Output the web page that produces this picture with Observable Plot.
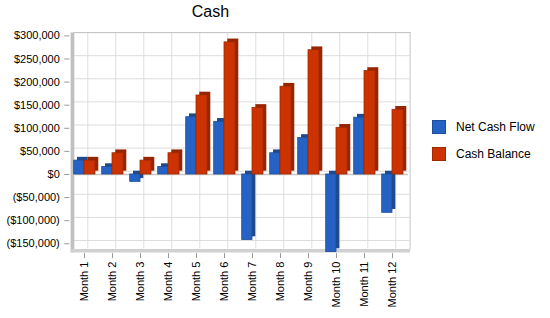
<!DOCTYPE html>
<html>
<head>
<meta charset="utf-8">
<script src="https://cdn.jsdelivr.net/npm/d3@7"></script>
<script src="https://cdn.jsdelivr.net/npm/@observablehq/plot@0.6"></script>
<style>
  html, body { margin: 0; padding: 0; background: #ffffff; }
  body { font-family: "Liberation Sans", Arial, sans-serif; }
  #wrap { position: relative; width: 550px; height: 318px; overflow: hidden; }
  #title { position: absolute; left: 160px; top: 3.5px; width: 101px; text-align: center;
           font-size: 16px; line-height: 16px; color: #000; }
  .item { position: absolute; left: 432px; height: 14px; display: flex; align-items: center;
          font-size: 12px; color: #000; white-space: nowrap; }
  .swatch { width: 12px; height: 12px; box-sizing: content-box; margin-right: 10px; }
  svg { position: absolute; left: 0; top: 0; }
</style>
</head>
<body>
<div id="wrap">
  <div id="title">Cash</div>
</div>
<script>
// Monthly cash figures
const months = ["Month 1", "Month 2", "Month 3", "Month 4", "Month 5", "Month 6",
                "Month 7", "Month 8", "Month 9", "Month 10", "Month 11", "Month 12"];
const netCashFlow = [30000, 16000, -16000, 16000, 124000, 114000,
                     -142000, 46000, 79000, -168000, 123000, -83000];
const cashBalance = [30000, 46000, 30000, 46000, 171000, 286000,
                     144000, 190000, 269000, 101000, 224000, 140000];
const seriesNames = ["Net Cash Flow", "Cash Balance"];
const yTicks = [-150000, -100000, -50000, 0, 50000, 100000, 150000, 200000, 250000, 300000];

const rows = months.map((m, i) => ({month: m, net: netCashFlow[i], cash: cashBalance[i]}));

// series styling: front face, edge and depth (side/top) colours
const colors = {
  "Net Cash Flow": {face: "#2662c4", edge: "#1f4d9a", depth: "#1e4a8c"},
  "Cash Balance": {face: "#cc3300", edge: "#a32800", depth: "#952600"}
};

const D = 3.3; // depth offset of the pseudo-3D box
const fmt = d3.format(",");
const money = (v) => v < 0 ? `($${fmt(-v)})` : `$${fmt(v)}`;

function bar3d(field, series, insetLeft, insetRight) {
  const c = colors[series];
  return [
    Plot.barY(rows, {x: "month", y: field, insetLeft, insetRight,
      dx: D, dy: -D, fill: c.depth}),
    Plot.barY(rows, {x: "month", y: field, insetLeft, insetRight,
      fill: c.face, stroke: c.edge, strokeWidth: 0.8})
  ];
}

const chart = Plot.plot({
  width: 550,
  height: 318,
  marginLeft: 70.3,
  marginRight: 143.7,
  marginTop: 35.4,
  marginBottom: 66.4,
  style: {fontFamily: "'Liberation Sans', Arial, sans-serif", fontSize: "11px", background: "transparent", color: "#000"},
  x: {domain: months, padding: 0, axis: null},
  y: {domain: [-168000, 300000], axis: null},
  marks: [
    // back wall grid
    Plot.gridY(yTicks, {dx: D, dy: -D, stroke: "#dddddd", strokeOpacity: 1}),
    Plot.gridX(months, {dx: D, dy: -D, stroke: "#dddddd", strokeOpacity: 1}),
    Plot.frame({anchor: "top", dx: D, dy: -D, stroke: "#c4c4c4"}),
    Plot.frame({anchor: "right", dx: D, dy: -D, stroke: "#c4c4c4"}),
    // side wall and floor
    Plot.frame({anchor: "left", dx: D / 2, dy: -D / 2, stroke: "#c0c0c0", strokeWidth: D + 0.4}),
    Plot.frame({anchor: "bottom", dx: D / 2, dy: -D / 2 + 0.3, stroke: "#d0d0d0", strokeWidth: D}),
    // zero plane
    Plot.ruleY([0], {dx: D / 2, stroke: "#c6c6c6", strokeWidth: 1.6}),
    // bars
    ...bar3d("net", seriesNames[0], 3.7, 14.0),
    ...bar3d("cash", seriesNames[1], 14.0, 3.0),
    // axes
    Plot.axisY({ticks: yTicks, tickFormat: money, tickSize: 5, tickPadding: 5, dx: -1,
      stroke: "#9a9a9a", fill: "#000", label: null}),
    Plot.axisX({tickRotate: -90, tickSize: 5, tickPadding: 3, dy: 1.5,
      stroke: "#9a9a9a", fill: "#000", label: null})
  ]
});

const wrap = document.getElementById("wrap");
wrap.appendChild(chart);

// legend
seriesNames.forEach((name, i) => {
  const item = document.createElement("div");
  item.className = "item";
  item.style.top = (120 + 27 * i) + "px";
  const sw = document.createElement("div");
  sw.className = "swatch";
  sw.style.background = colors[name].face;
  sw.style.border = "1px solid " + colors[name].edge;
  const label = document.createElement("span");
  label.textContent = name;
  item.appendChild(sw);
  item.appendChild(label);
  wrap.appendChild(item);
});
</script>
</body>
</html>
